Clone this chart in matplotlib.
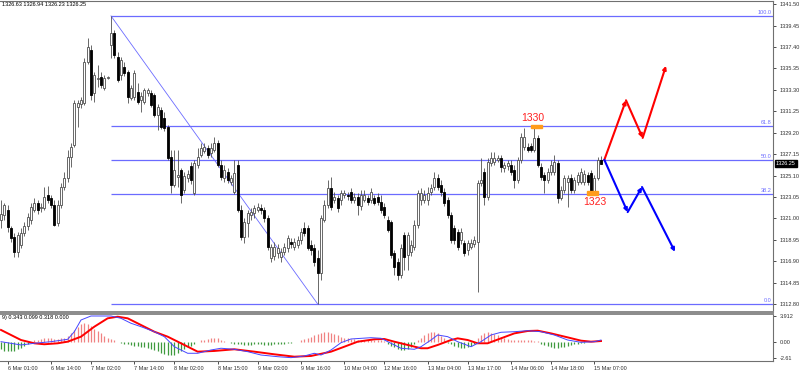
import numpy as np
import matplotlib
matplotlib.use('agg')
import matplotlib.pyplot as plt
from matplotlib.patches import Rectangle

plt.rcParams['font.family'] = ['Liberation Sans', 'DejaVu Sans']

# ---- H1 candles (bar index 0 .. 180), prices
opens = [
    1320.85, 1321.32, 1321.80, 1320.08, 1319.22, 1317.78, 1318.45, 1319.60, 1320.27, 1320.85,
    1321.80, 1322.47, 1321.99, 1321.99, 1323.24, 1322.95, 1322.28, 1320.56, 1322.28, 1324.00,
    1324.87, 1326.88, 1328.02, 1331.66, 1331.95, 1332.04, 1335.97, 1337.11, 1333.00, 1334.34,
    1334.53, 1333.48, 1334.44, 1337.59, 1338.74, 1336.45, 1334.72, 1335.49, 1335.01, 1332.52,
    1332.62, 1333.10, 1332.33, 1332.14, 1333.00, 1333.00, 1332.81, 1330.89, 1331.37, 1330.61,
    1329.75, 1326.88, 1324.20, 1324.96, 1325.63, 1323.72, 1324.87, 1326.01, 1323.43, 1326.11,
    1327.07, 1327.45, 1327.74, 1327.26, 1327.55, 1328.21, 1326.11, 1324.87, 1325.44, 1324.48,
    1323.53, 1326.11, 1321.80, 1319.22, 1320.56, 1321.32, 1321.52, 1321.80, 1321.99, 1321.80,
    1321.04, 1317.21, 1317.40, 1317.69, 1317.30, 1317.78, 1318.17, 1318.74, 1318.26, 1318.45,
    1318.93, 1320.08, 1320.08, 1318.45, 1318.17, 1317.21, 1315.77, 1320.85, 1322.28, 1323.91,
    1322.76, 1322.95, 1322.76, 1323.24, 1323.24, 1323.53, 1322.76, 1323.05, 1322.19, 1322.76,
    1322.95, 1322.76, 1322.95, 1323.05, 1322.57, 1322.09, 1320.85, 1320.65, 1317.69, 1316.83,
    1315.58, 1319.41, 1317.50, 1317.78, 1318.26, 1320.37, 1322.76, 1322.76, 1322.76, 1323.53,
    1324.00, 1324.87, 1324.20, 1323.53, 1322.76, 1321.32, 1320.08, 1319.70, 1318.93, 1318.65,
    1317.98, 1318.26, 1318.55, 1318.74, 1324.39, 1325.44, 1323.05, 1326.30, 1326.40, 1326.59,
    1326.78, 1325.82, 1326.01, 1326.11, 1325.63, 1324.67, 1326.59, 1327.83, 1327.83, 1327.93,
    1327.55, 1328.69, 1325.92, 1325.15, 1324.67, 1325.44, 1325.44, 1326.30, 1322.95, 1323.72,
    1324.48, 1324.87, 1323.72, 1324.48, 1324.48, 1324.48, 1325.15, 1325.34, 1323.53, 1324.87,
    1326.63]
highs = [
    1322.76, 1322.47, 1322.28, 1320.27, 1319.60, 1319.70, 1320.08, 1320.65, 1321.52, 1322.47,
    1322.95, 1322.76, 1322.47, 1324.00, 1324.10, 1323.24, 1322.76, 1322.76, 1324.39, 1325.44,
    1327.55, 1328.21, 1332.33, 1332.33, 1332.62, 1336.35, 1338.26, 1337.59, 1335.01, 1335.68,
    1335.01, 1334.72, 1334.63, 1340.37, 1339.03, 1336.92, 1336.45, 1335.97, 1335.20, 1333.77,
    1335.20, 1333.96, 1333.10, 1333.48, 1333.48, 1333.29, 1333.00, 1331.95, 1331.66, 1331.18,
    1329.94, 1327.55, 1327.55, 1327.55, 1325.82, 1325.44, 1325.63, 1326.40, 1326.59, 1327.74,
    1328.21, 1328.21, 1328.02, 1328.21, 1328.79, 1328.50, 1326.59, 1326.11, 1325.82, 1325.15,
    1326.59, 1326.59, 1322.28, 1321.04, 1321.80, 1321.99, 1322.28, 1322.47, 1322.38, 1322.09,
    1321.32, 1318.55, 1318.74, 1318.55, 1318.17, 1318.65, 1319.41, 1319.12, 1319.12, 1319.31,
    1320.08, 1320.65, 1320.37, 1318.93, 1318.55, 1317.98, 1321.32, 1322.76, 1324.67, 1324.96,
    1323.53, 1323.24, 1323.72, 1323.72, 1323.53, 1323.91, 1323.43, 1323.43, 1323.72, 1323.72,
    1323.24, 1323.91, 1323.24, 1323.43, 1323.24, 1322.47, 1321.23, 1320.85, 1317.98, 1317.21,
    1318.55, 1319.70, 1319.70, 1318.93, 1320.85, 1323.72, 1323.91, 1323.72, 1324.00, 1324.29,
    1325.44, 1325.25, 1324.67, 1323.91, 1323.05, 1321.61, 1320.37, 1319.98, 1320.08, 1318.93,
    1318.93, 1319.03, 1319.31, 1324.67, 1326.78, 1325.82, 1326.78, 1327.35, 1327.35, 1327.07,
    1327.07, 1326.40, 1326.59, 1326.59, 1326.11, 1326.88, 1329.17, 1329.65, 1328.21, 1328.21,
    1329.75, 1328.98, 1326.30, 1325.44, 1325.82, 1326.59, 1327.07, 1326.59, 1324.10, 1325.15,
    1325.15, 1325.25, 1324.96, 1325.44, 1325.82, 1325.63, 1325.44, 1325.63, 1325.15, 1326.88,
    1326.94]
lows = [
    1320.08, 1320.85, 1319.70, 1318.74, 1317.30, 1317.30, 1318.17, 1319.31, 1319.89, 1320.46,
    1321.61, 1321.42, 1321.61, 1321.80, 1322.47, 1321.99, 1320.27, 1320.27, 1321.99, 1323.72,
    1324.48, 1325.92, 1327.83, 1329.75, 1331.56, 1331.85, 1335.78, 1332.33, 1332.14, 1333.57,
    1333.48, 1333.29, 1334.34, 1336.35, 1336.35, 1334.05, 1334.24, 1334.63, 1332.04, 1332.33,
    1332.33, 1331.95, 1331.18, 1331.95, 1332.71, 1331.66, 1330.70, 1329.46, 1329.55, 1329.36,
    1326.59, 1323.43, 1324.00, 1324.00, 1322.47, 1323.43, 1324.48, 1324.29, 1323.24, 1325.82,
    1326.88, 1327.26, 1326.78, 1326.88, 1327.35, 1325.92, 1324.67, 1324.48, 1324.39, 1324.20,
    1323.33, 1321.61, 1318.93, 1318.65, 1319.22, 1320.85, 1321.04, 1321.61, 1321.42, 1320.65,
    1317.98, 1316.83, 1317.02, 1317.21, 1316.83, 1317.50, 1317.78, 1318.17, 1317.98, 1318.17,
    1318.55, 1319.31, 1317.98, 1317.50, 1316.44, 1312.81, 1315.10, 1320.65, 1321.99, 1321.80,
    1322.47, 1321.61, 1322.28, 1322.95, 1322.76, 1322.47, 1322.47, 1321.32, 1321.80, 1322.57,
    1322.28, 1322.47, 1322.28, 1322.28, 1321.52, 1321.04, 1319.70, 1317.21, 1315.58, 1315.10,
    1315.30, 1316.06, 1316.06, 1317.40, 1317.98, 1320.08, 1322.28, 1322.47, 1322.28, 1323.24,
    1323.72, 1323.72, 1323.14, 1322.19, 1321.04, 1318.65, 1318.55, 1317.98, 1318.55, 1317.40,
    1317.50, 1318.07, 1318.26, 1313.96, 1324.10, 1322.28, 1322.76, 1326.01, 1326.11, 1326.40,
    1325.44, 1325.44, 1325.63, 1325.15, 1323.91, 1324.39, 1326.30, 1327.55, 1327.35, 1327.35,
    1327.35, 1325.92, 1324.67, 1323.43, 1324.39, 1325.15, 1325.15, 1322.47, 1322.76, 1323.43,
    1322.09, 1323.43, 1323.43, 1324.20, 1324.29, 1324.20, 1324.20, 1323.33, 1323.33, 1324.67,
    1326.23]
closes = [
    1321.42, 1322.28, 1320.17, 1319.12, 1317.78, 1319.41, 1319.60, 1320.27, 1321.13, 1322.09,
    1322.47, 1321.80, 1322.09, 1323.05, 1322.76, 1322.28, 1320.37, 1322.28, 1324.00, 1324.87,
    1326.88, 1327.83, 1332.04, 1332.04, 1332.33, 1335.97, 1337.40, 1332.81, 1334.72, 1334.44,
    1333.77, 1334.44, 1334.53, 1338.74, 1336.64, 1334.24, 1336.16, 1334.91, 1332.62, 1333.48,
    1334.91, 1332.14, 1332.71, 1333.29, 1333.29, 1331.85, 1330.89, 1331.66, 1329.75, 1329.65,
    1326.78, 1324.20, 1325.63, 1325.15, 1323.24, 1325.06, 1325.25, 1324.67, 1326.30, 1326.88,
    1327.74, 1327.83, 1327.07, 1327.74, 1328.21, 1326.11, 1324.96, 1325.63, 1324.67, 1324.87,
    1325.34, 1321.80, 1319.22, 1320.65, 1321.52, 1321.61, 1321.99, 1322.09, 1321.80, 1321.04,
    1318.26, 1318.26, 1318.26, 1318.17, 1317.78, 1318.26, 1319.12, 1318.55, 1318.74, 1318.93,
    1319.70, 1319.60, 1318.17, 1317.98, 1316.83, 1315.77, 1321.04, 1322.28, 1323.91, 1322.09,
    1323.05, 1321.99, 1323.43, 1323.43, 1323.14, 1322.76, 1323.05, 1322.28, 1323.24, 1323.24,
    1322.57, 1323.53, 1322.47, 1322.57, 1321.80, 1321.32, 1319.89, 1317.50, 1316.35, 1315.58,
    1318.17, 1317.30, 1319.41, 1318.45, 1320.37, 1323.43, 1323.43, 1323.24, 1323.43, 1323.91,
    1324.87, 1324.00, 1323.53, 1322.47, 1321.32, 1318.93, 1318.93, 1318.26, 1319.70, 1317.69,
    1318.65, 1318.65, 1318.93, 1324.39, 1324.67, 1323.05, 1326.40, 1326.78, 1326.78, 1326.78,
    1325.92, 1326.11, 1326.30, 1325.44, 1324.67, 1326.59, 1328.79, 1328.79, 1327.55, 1327.55,
    1328.69, 1326.11, 1324.96, 1324.67, 1325.44, 1326.11, 1326.40, 1322.95, 1323.72, 1324.87,
    1324.87, 1323.72, 1324.67, 1325.15, 1325.44, 1325.25, 1324.48, 1323.53, 1324.87, 1326.59,
    1326.25]

# ---- MACD sub window
macd_bars = [0, 6, 10, 15, 20, 22, 24, 27, 33, 36, 39, 42, 46, 49, 52, 56, 59, 63, 66, 70,
             74, 78, 83, 87, 91, 94, 96, 99, 102, 105, 111, 114, 117, 120, 124, 126, 129, 131,
             134, 137, 141, 144, 147, 150, 154, 158, 162, 166, 170, 174, 178, 180]
macd_main = [0.0, -0.51, -0.25, 0.0, 0.37, 1.55, 3.37, 3.99, 3.99, 3.63, 2.86, 2.33, 1.55,
             0.78, -0.78, -1.80, -1.80, -1.29, -1.02, -1.18, -1.55, -2.07, -2.33, -2.48, -2.22,
             -1.80, -2.07, -1.29, -0.16, 0.42, 0.62, 0.53, -0.25, -1.02, -1.18, -0.78, 0.26,
             1.04, 0.78, 0.0, -0.78, 0.0, 1.04, 1.46, 1.55, 1.71, 1.55, 1.04, 0.26, -0.10, 0.0,
             0.26]
signal_bars = [0, 3, 6, 10, 13, 17, 20, 24, 28, 32, 35, 38, 42, 46, 50, 54, 59, 64, 70, 76,
               82, 88, 93, 99, 103, 107, 112, 115, 118, 120, 122, 126, 128, 131, 135, 137,
               140, 143, 146, 150, 154, 158, 161, 165, 170, 174, 177, 180]
signal = [1.82, 1.04, 0.26, -0.25, -0.40, -0.25, 0.0, 0.78, 2.33, 3.63, 3.88, 3.63, 2.59,
          1.55, 0.78, -0.25, -1.55, -1.44, -1.18, -1.55, -1.96, -2.33, -2.22, -1.55, -0.78,
          0.0, 0.37, 0.42, 0.0, -0.25, -0.51, -1.02, -1.02, -0.51, 0.26, 0.52, 0.26, -0.25,
          -0.25, 0.52, 1.29, 1.66, 1.71, 1.29, 0.67, 0.16, 0.0, 0.10]
hist = [
    -1.2, -1.4, -1.5, -1.5, -1.4, -1.2, -1.0, -0.7, -0.4, -0.1,
    0.2, 0.3, 0.4, 0.5, 0.5, 0.5, 0.4, 0.4, 0.5, 0.6,
    0.9, 1.3, 1.8, 2.3, 2.7, 2.9, 2.7, 2.4, 2.0, 1.6, 1.3, 0.9, 0.6, 0.4, 0.2,
    -0.1, -0.2, -0.3, -0.4, -0.5, -0.6, -0.7, -0.8, -0.9, -1.0, -1.1, -1.3, -1.5, -1.7, -1.9,
    -2.0, -2.1, -2.0, -1.8, -1.5, -1.2, -0.9, -0.6, -0.3, -0.1,
    0.2, 0.3, 0.4, 0.5, 0.6, 0.5, 0.3, 0.1,
    -0.1, -0.2, -0.3, -0.4, -0.4, -0.5, -0.5, -0.5, -0.4, -0.4, -0.4, -0.5, -0.5, -0.5, -0.4,
    -0.4, -0.3, -0.3, -0.2, -0.2, -0.1, -0.1,
    0.2, 0.4, 0.6, 0.8, 1.0, 1.2, 1.4, 1.5, 1.5, 1.4, 1.2, 1.0, 0.8, 0.6,
    0.5, 0.4, 0.4, 0.3, 0.3, 0.3, 0.3, 0.3, 0.3, 0.2, 0.2, 0.1,
    -0.3, -0.6, -0.9, -1.1, -1.3, -1.3, -1.1, -0.8, -0.4,
    0.2, 0.6, 1.0, 1.3, 1.5, 1.5, 1.3, 0.9, 0.5,
    -0.2, -0.4, -0.6, -0.8, -1.0, -1.0, -0.9, -0.7, -0.4,
    0.5, 1.0, 1.3, 1.5, 1.4, 1.2, 1.0, 0.8, 0.6, 0.4,
    0.2, 0.2, 0.2, 0.2, 0.2, 0.2, 0.2, 0.1, 0.1,
    -0.3, -0.5, -0.7, -0.9, -1.0, -1.0, -0.9, -0.8, -0.7, -0.5, -0.4,
    -0.3, -0.2, -0.2, -0.1, -0.1, 0.0, 0.0, 0.0]

# ---- scenario arrows (bar index, price)
up_bars = [181, 187.5, 192.5, 199.5]
up_prices = [1326.6, 1332.3, 1328.7, 1335.6]
down_bars = [181, 188.0, 192.3, 202.2]
down_prices = [1326.6, 1321.6, 1324.0, 1317.8]

fib_ratios = [0.0, 0.382, 0.5, 0.618, 1.0]
fib_labels = ['0.0', '38.2', '50.0', '61.8', '100.0']
fib_start, fib_end = 33, 95

price_ticks = [1341.50, 1339.45, 1337.40, 1335.35, 1333.30, 1331.25, 1329.20, 1327.15,
               1325.10, 1323.05, 1321.00, 1318.95, 1316.90, 1314.85, 1312.80]
macd_ticks = [3.912, 0.0, -2.61]
macd_tick_labels = ['3.912', '0.00', '-2.61']
time_bars = [2, 15, 27, 40, 52, 65, 77, 90, 103, 115, 128, 140, 153, 165, 178]
time_labels = ['6 Mar 01:00', '6 Mar 14:00', '7 Mar 02:00', '7 Mar 14:00', '8 Mar 02:00',
               '8 Mar 15:00', '9 Mar 03:00', '9 Mar 16:00', '10 Mar 04:00', '12 Mar 16:00',
               '13 Mar 04:00', '13 Mar 17:00', '14 Mar 06:00', '14 Mar 18:00', '15 Mar 07:00']

XMAX = 231.6
W, H = 800.0, 373.0
fig = plt.figure(figsize=(8, 3.73), dpi=100)
ax = fig.add_axes([0, 1 - 312 / H, 773 / W, 311 / H])
ax2 = fig.add_axes([0, 1 - 361 / H, 773 / W, 47 / H])

o = np.array(opens); c = np.array(closes)
hi = np.array(highs); lo = np.array(lows)
idx = np.arange(len(c))
up = c >= o
bot = np.minimum(o, c)
tall = np.maximum(np.abs(c - o), 0.05)

#-- candles
ax.vlines(idx, lo, hi, color='#505050', lw=0.6, zorder=2)
ax.bar(idx[up], tall[up], bottom=bot[up], width=0.62, facecolor='white',
       edgecolor='#505050', linewidth=0.6, zorder=3)
ax.bar(idx[~up], tall[~up], bottom=bot[~up], width=0.62, facecolor='black',
       edgecolor='black', linewidth=0.6, zorder=3)

#-- fibonacci retracement
fib_hi, fib_lo = highs[fib_start], lows[fib_end]
fib_color = '#6b6bff'
ax.plot([fib_start, fib_end], [fib_hi, fib_lo], color=fib_color, lw=0.6, zorder=1)
for r, lab in zip(fib_ratios, fib_labels):
    lvl = fib_lo + r * (fib_hi - fib_lo)
    ax.hlines(lvl, fib_start, XMAX, color=fib_color, lw=0.9, zorder=1)
    ax.text(XMAX - 0.4, lvl + 0.08, lab, color=fib_color, fontsize=4,
            ha='right', va='bottom')

#-- arrows
for xs, ys, col in [(up_bars, up_prices, '#ff0000'), (down_bars, down_prices, '#0000ff')]:
    for k in range(len(xs) - 1):
        ax.annotate('', xy=(xs[k + 1], ys[k + 1]), xytext=(xs[k], ys[k]),
                    arrowprops=dict(arrowstyle='-|>', color=col, lw=1.5,
                                    mutation_scale=5, shrinkA=0, shrinkB=0), zorder=5)

#-- high / low markers
ax.add_patch(Rectangle((158.9, highs[160] - 0.1), 3.3, 0.33, color='#ff9c1a', zorder=4))
ax.text(159.4, highs[160] + 0.36, '1330', color='#ff2020', fontsize=7.5,
        ha='center', va='bottom')
ax.add_patch(Rectangle((175.8, lows[177] - 0.1), 3.3, 0.4, color='#ff9c1a', zorder=4))
ax.text(178.0, lows[177] - 0.3, '1323', color='#ff2020', fontsize=7.5,
        ha='center', va='top')

ax.text(0.002, 0.997, '1326.63 1326.94 1326.23 1326.25', transform=ax.transAxes,
        fontsize=4, va='top', ha='left')

ax.set_xlim(-0.3, XMAX)
ax.set_ylim(1312.04, 1341.80)
ax.set_xticks([])
ax.yaxis.tick_right()
ax.set_yticks(price_ticks)
ax.set_yticklabels(['%.2f' % v for v in price_ticks])
ax.tick_params(axis='y', length=2.5, width=0.6, labelsize=4, pad=2, colors='#303030')

# current price box
ax.text(1.004, closes[-1], '%.2f' % closes[-1], transform=ax.get_yaxis_transform(),
        fontsize=4, color='white', va='center', ha='left',
        bbox=dict(boxstyle='square,pad=0.25', facecolor='black', edgecolor='black'))

#-- MACD panel
hcol = ['#f08282' if v > 0 else '#3f9a3f' for v in hist]
ax2.vlines(idx, 0, hist, colors=hcol, lw=0.9)
ax2.plot(signal_bars, signal, color='#ff0000', lw=1.4)
ax2.plot(macd_bars, macd_main, color='#4646ff', lw=0.7)
ax2.text(0.002, 0.97, '9) 0.343 0.099 0.318 0.000', transform=ax2.transAxes,
         fontsize=4, va='top', ha='left')
ax2.set_xlim(-0.3, XMAX)
ax2.set_ylim(-3.0, 4.30)
ax2.yaxis.tick_right()
ax2.set_yticks(macd_ticks)
ax2.set_yticklabels(macd_tick_labels)
ax2.tick_params(axis='y', length=2.5, width=0.6, labelsize=4, pad=2, colors='#303030')
ax2.set_xticks(time_bars)
ax2.set_xticklabels(time_labels, ha='left')
ax2.tick_params(axis='x', length=2, width=0.6, labelsize=4, pad=1.5, colors='#303030')

for a in (ax, ax2):
    a.spines['left'].set_visible(False)
    for s in ('top', 'right', 'bottom'):
        a.spines[s].set_color('#707070')
        a.spines[s].set_linewidth(0.8)
ax.spines['bottom'].set_linewidth(1.4)
ax.spines['bottom'].set_color('#8a8a8a')
ax2.spines['top'].set_linewidth(1.4)
ax2.spines['top'].set_color('#8a8a8a')

fig.savefig('out.png', dpi=100)
plt.close(fig)
